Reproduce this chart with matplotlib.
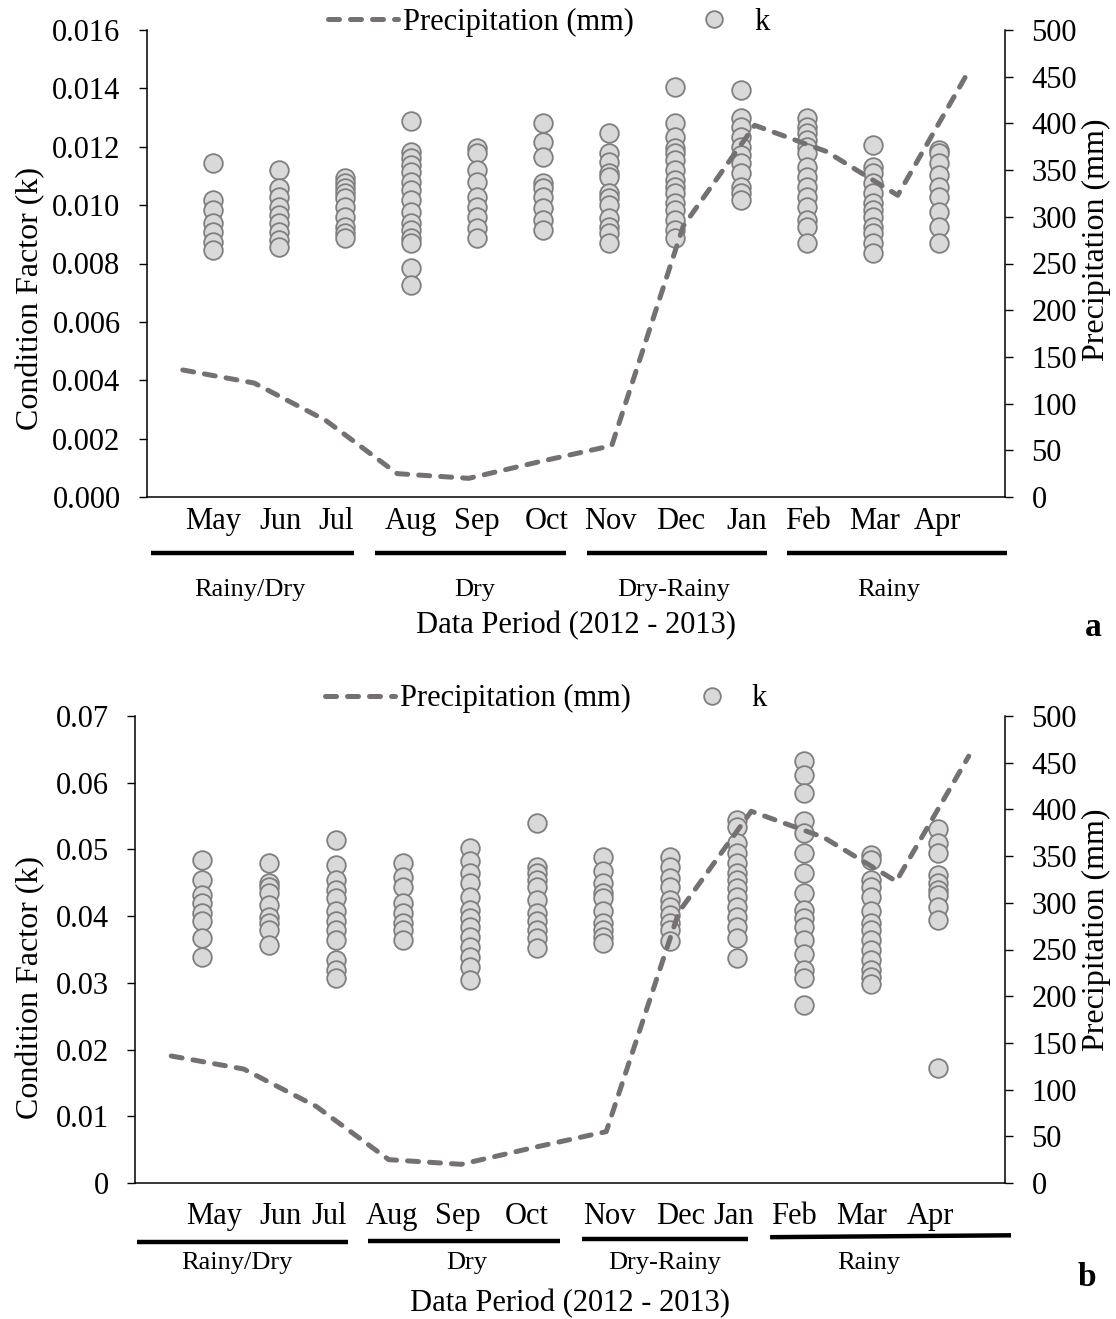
import numpy as np
import matplotlib
matplotlib.use("Agg")
import matplotlib.pyplot as plt
from matplotlib.lines import Line2D
from matplotlib.ticker import FuncFormatter, MultipleLocator

plt.rcParams['font.family'] = ['Liberation Serif', 'DejaVu Serif']

months = ['May', 'Jun', 'Jul', 'Aug', 'Sep', 'Oct', 'Nov', 'Dec', 'Jan', 'Feb', 'Mar', 'Apr']
seasons = ['Rainy/Dry', 'Dry', 'Dry-Rainy', 'Rainy']
precip = [136, 122, 82, 25, 20, 38, 55, 290, 398, 370, 323, 457]

# condition factor k, panel a (one list per month)
k_a = [
    [0.01143, 0.01018, 0.00983, 0.00938, 0.00909, 0.00875, 0.00846],
    [0.01120, 0.01058, 0.01029, 0.00995, 0.00966, 0.00938, 0.00909, 0.00880, 0.00855],
    [0.01092, 0.01075, 0.01058, 0.01040, 0.01023, 0.00995, 0.00960, 0.00926, 0.00903, 0.00886],
    [0.01288, 0.01183, 0.01160, 0.01137, 0.01115, 0.01080, 0.01052, 0.01018, 0.00977,
     0.00938, 0.00915, 0.00886, 0.00869, 0.00784, 0.00726],
    [0.01195, 0.01177, 0.01120, 0.01080, 0.01029, 0.00995, 0.00960, 0.00921, 0.00886],
    [0.01280, 0.01217, 0.01166, 0.01075, 0.01058, 0.01029, 0.00989, 0.00949, 0.00915],
    [0.01246, 0.01177, 0.01149, 0.01109, 0.01097, 0.01040, 0.01023, 0.01000, 0.00955,
     0.00926, 0.00903, 0.00869],
    [0.01406, 0.01280, 0.01234, 0.01195, 0.01177, 0.01155, 0.01120, 0.01086, 0.01063,
     0.01040, 0.01006, 0.00983, 0.00949, 0.00915, 0.00886],
    [0.01394, 0.01297, 0.01269, 0.01234, 0.01200, 0.01172, 0.01143, 0.01109, 0.01063,
     0.01040, 0.01018],
    [0.01297, 0.01269, 0.01246, 0.01223, 0.01200, 0.01177, 0.01132, 0.01097, 0.01063,
     0.01029, 0.00995, 0.00949, 0.00926, 0.00869],
    [0.01206, 0.01132, 0.01109, 0.01075, 0.01040, 0.01006, 0.00983, 0.00960, 0.00926,
     0.00903, 0.00869, 0.00835],
    [0.01189, 0.01177, 0.01143, 0.01103, 0.01063, 0.01029, 0.00977, 0.00926, 0.00869],
]

# condition factor k, panel b
k_b = [
    [0.0484, 0.0454, 0.0432, 0.0419, 0.0404, 0.0392, 0.0367, 0.0339],
    [0.0480, 0.0449, 0.0444, 0.0434, 0.0417, 0.0399, 0.0389, 0.0379, 0.0357],
    [0.0514, 0.0477, 0.0454, 0.0439, 0.0427, 0.0407, 0.0392, 0.0379, 0.0364, 0.0334,
     0.0319, 0.0307],
    [0.0480, 0.0459, 0.0444, 0.0419, 0.0404, 0.0389, 0.0379, 0.0364],
    [0.0502, 0.0482, 0.0464, 0.0449, 0.0429, 0.0409, 0.0397, 0.0384, 0.0369, 0.0354,
     0.0339, 0.0324, 0.0304],
    [0.0539, 0.0474, 0.0464, 0.0454, 0.0444, 0.0424, 0.0404, 0.0392, 0.0379, 0.0367, 0.0352],
    [0.0489, 0.0467, 0.0449, 0.0434, 0.0427, 0.0407, 0.0389, 0.0379, 0.0369, 0.0359],
    [0.0489, 0.0474, 0.0457, 0.0444, 0.0424, 0.0414, 0.0402, 0.0389, 0.0379, 0.0362],
    [0.0544, 0.0534, 0.0509, 0.0494, 0.0479, 0.0464, 0.0454, 0.0442, 0.0429, 0.0414,
     0.0399, 0.0384, 0.0367, 0.0337],
    [0.0632, 0.0612, 0.0584, 0.0542, 0.0524, 0.0494, 0.0464, 0.0434, 0.0409, 0.0397,
     0.0384, 0.0364, 0.0344, 0.0319, 0.0307, 0.0267],
    [0.0492, 0.0484, 0.0454, 0.0444, 0.0429, 0.0407, 0.0389, 0.0379, 0.0364, 0.0349,
     0.0334, 0.0319, 0.0309, 0.0299],
    [0.0530, 0.0509, 0.0494, 0.0462, 0.0449, 0.0439, 0.0432, 0.0414, 0.0394, 0.0172],
]

LINE_C = '#767171'
FACE_C = '#D9D9D9'
EDGE_C = '#7F7F7F'
DASH = (0, (2.2, 2.2))


def panel(rect, kdata, ymax, ystep, fmt, lab, mpos, mlab_y, bars, bar_y, spos, sea_y,
          per_y, tag_xy, leg_xy, ylab_l, ylab_r):
    ax = fig.add_axes(rect)
    for i, vals in enumerate(kdata):
        ax.scatter([i + 1] * len(vals), vals, s=180, facecolor=FACE_C, edgecolor=EDGE_C,
                   linewidth=1.3, zorder=3)
    ax.set_xlim(0, 13)
    ax.set_ylim(0, ymax)
    ax.yaxis.set_major_locator(MultipleLocator(ystep))
    ax.yaxis.set_major_formatter(FuncFormatter(fmt))
    ax.set_xticks([])
    for s in ['top', 'right']:
        ax.spines[s].set_visible(False)
    for s in ['left', 'bottom']:
        ax.spines[s].set_linewidth(1.1)
    ax.tick_params(axis='y', direction='out', length=6, width=1.0, labelsize=22, pad=13)
    ax.set_ylabel('Condition Factor (k)', fontsize=23)
    ax.yaxis.set_label_coords(*ylab_l)

    # precipitation sits on its own axes (12 evenly spread categories)
    axp = fig.add_axes(rect)
    axp.patch.set_visible(False)
    axp.set_xlim(0, 12)
    axp.set_ylim(0, 500)
    axp.yaxis.tick_right()
    axp.yaxis.set_label_position('right')
    axp.yaxis.set_major_locator(MultipleLocator(50))
    axp.set_xticks([])
    for s in ['top', 'left', 'bottom']:
        axp.spines[s].set_visible(False)
    axp.spines['right'].set_linewidth(1.1)
    axp.tick_params(axis='y', direction='out', length=6, width=1.0, labelsize=22, pad=13)
    xs = np.arange(len(precip)) + 0.5
    axp.plot(xs, precip, color=LINE_C, linewidth=3.6, linestyle=DASH,
             dash_capstyle='round', zorder=4)
    axp.set_ylabel('Precipitation (mm)', fontsize=23)
    axp.yaxis.set_label_coords(*ylab_r)

    h1 = Line2D([], [], color=LINE_C, linewidth=3.6, linestyle=DASH, dash_capstyle='round')
    h2 = Line2D([], [], linestyle='none', marker='o', markersize=12,
                markerfacecolor=FACE_C, markeredgecolor=EDGE_C, markeredgewidth=1.3)
    axp.legend([h1, h2], ['Precipitation (mm)', 'k'], ncol=2, loc='center',
               bbox_to_anchor=leg_xy, frameon=False, fontsize=22, handlelength=2.3,
               handletextpad=0.15, columnspacing=1.5, borderaxespad=0)

    tr = ax.get_xaxis_transform()
    for m, x in zip(months, mpos):
        ax.text(x, mlab_y, m, transform=tr, ha='center', va='center', fontsize=22)
    for (x0, x1), (y0, y1) in zip(bars, bar_y):
        ax.plot([x0, x1], [y0, y1], transform=tr, color='black', linewidth=3.2,
                clip_on=False, solid_capstyle='butt')
    for s, x in zip(seasons, spos):
        ax.text(x, sea_y, s, transform=tr, ha='center', va='center', fontsize=19)
    ax.text(6.5, per_y, 'Data Period (2012 - 2013)', transform=tr, ha='center',
            va='center', fontsize=22)
    ax.text(tag_xy[0], tag_xy[1], lab, transform=tr, ha='center', va='center',
            fontsize=24, fontweight='bold')
    return ax


fig = plt.figure(figsize=(11.16, 13.19), dpi=100)

panel([147 / 1116, 1 - 497 / 1319, 858 / 1116, 467 / 1319], k_a, 0.016, 0.002,
      lambda v, p: f'{v:.3f}', 'a',
      [1.0, 2.03, 2.86, 4.0, 5.0, 6.05, 7.02, 8.09, 9.08, 10.02, 11.03, 11.98], -0.0535,
      [(0.06, 3.14), (3.45, 6.35), (6.67, 9.39), (9.70, 13.03)],
      [(-0.12, -0.12)] * 4,
      [1.56, 4.97, 7.98, 11.24], -0.199, -0.276, (14.33, -0.28), (0.468, 1.017),
      (-0.119, 0.424), (1.090, 0.55))

panel([135 / 1116, 1 - 1183 / 1319, 870 / 1116, 467 / 1319], k_b, 0.07, 0.01,
      lambda v, p: '0' if v == 0 else f'{v:.2f}', 'b',
      [1.18, 2.18, 2.90, 3.84, 4.83, 5.86, 7.09, 8.16, 8.95, 9.84, 10.85, 11.88], -0.0707,
      [(0.03, 3.18), (3.48, 6.35), (6.68, 9.16), (9.49, 13.09)],
      [(-0.126, -0.126), (-0.124, -0.124), (-0.120, -0.120), (-0.116, -0.112)],
      [1.52, 4.96, 7.92, 10.96], -0.171, -0.258, (14.23, -0.203), (0.472, 1.037),
      (-0.103, 0.418), (1.0885, 0.542))

fig.savefig('out.png', dpi=100)
